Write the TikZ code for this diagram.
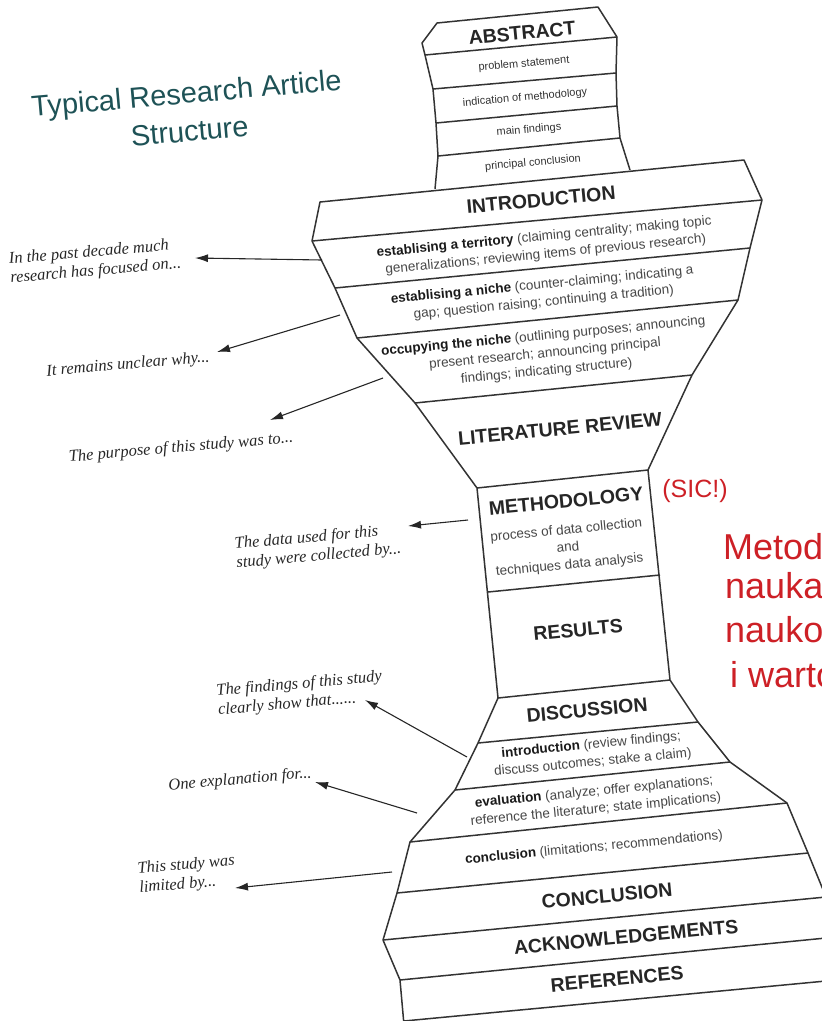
\documentclass[tikz,border=0pt]{standalone}
\usepackage{fontspec}
\usetikzlibrary{arrows.meta}
\newfontfamily\sansbox{Liberation Sans}
\newfontfamily\notefont{Liberation Serif}
\definecolor{titleteal}{RGB}{30,82,86}
\definecolor{sicred}{RGB}{205,32,38}
\newcommand\kw[1]{\textbf{\color{black!90}#1}}

\begin{document}
\begin{tikzpicture}[x=1pt,y=-1pt,
  outl/.style={line width=1.5pt,draw=black!80,line join=round},
  sep/.style={line width=1.5pt,draw=black!80},
  head/.style={font=\sansbox\bfseries\fontsize{19.5}{22}\selectfont,text=black!85,rotate=5.5,inner sep=0pt},
  sub/.style={font=\sansbox\fontsize{13.5}{17.5}\selectfont,text=black!72,align=center,rotate=5.5,inner sep=0pt},
  tiny/.style={font=\sansbox\fontsize{11}{13}\selectfont,text=black!80,rotate=5,inner sep=0pt},
  note/.style={font=\notefont\itshape\fontsize{16.5}{19}\selectfont,text=black!85,align=left,rotate=5,inner sep=0pt},
  title/.style={font=\sansbox\fontsize{29}{38}\selectfont,text=titleteal,align=center,rotate=5},
  arr/.style={-{Latex[length=13pt,width=8pt]},line width=1.1pt,draw=black!85},
  sic/.style={font=\sansbox\fontsize{25}{28}\selectfont,text=sicred,inner sep=0pt},
  polish/.style={font=\sansbox\fontsize{36}{40}\selectfont,text=sicred,anchor=base west,inner sep=0pt}]

   \useasboundingbox (0,0) rectangle (822,1021);
   \clip (0,0) rectangle (822,1021);

   \node[title] (title) at (188,112) {Typical Research Article\\Structure};

   \draw[outl] (435,189) -- (438,156) -- (436,123) -- (433,89) -- (425,55) -- (422,43) -- (437,23)
      -- (598,7) -- (617,37) -- (616,73) -- (617,106) -- (620,138) -- (630,170);
   \draw[outl] (404,1025) -- (400,980) -- (383,940) -- (397,893) -- (410,842) -- (455,790) -- (478,743)
      -- (498,698) -- (477,488) -- (415,403) -- (357,338) -- (335,288) -- (312,241) -- (320,202)
      -- (744,160) -- (762,200) -- (750,248) -- (738,300) -- (692,375) -- (648,470) -- (670,680)
      -- (698,722) -- (730,762) -- (787,803) -- (808,853) -- (826,897) -- (823,938) -- (830,985);

   \draw[sep] (425,55) -- (617,37);
   \draw[sep] (433,89) -- (616,73);
   \draw[sep] (436,123) -- (617,106);
   \draw[sep] (438,156) -- (620,138);
   \draw[sep] (312,241) -- (762,200);
   \draw[sep] (335,288) -- (750,248);
   \draw[sep] (357,338) -- (738,300);
   \draw[sep] (415,403) -- (692,375);
   \draw[sep] (477,488) -- (648,470);
   \draw[sep] (488,592) -- (660,575);
   \draw[sep] (498,698) -- (670,680);
   \draw[sep] (478,743) -- (698,722);
   \draw[sep] (455,790) -- (730,762);
   \draw[sep] (410,842) -- (787,803);
   \draw[sep] (397,893) -- (808,853);
   \draw[sep] (383,940) -- (826,897);
   \draw[sep] (400,980) -- (826,938);
   \draw[sep] (404,1021) -- (826,981);

   \node[head] (abstract) at (522,33) {ABSTRACT};
   \node[tiny] (problem) at (524,64) {problem statement};
   \node[tiny] (indication) at (525,98) {indication of methodology};
   \node[tiny] (mainfind) at (529,130) {main findings};
   \node[tiny] (principal) at (533,163) {principal conclusion};

   \node[head] (intro) at (541,200) {INTRODUCTION};
   \node[sub] (territory) at (545,246) {\kw{establising a territory} (claiming centrality; making topic\\generalizations; reviewing items of previous research)};
   \node[sub] (niche) at (543,294) {\kw{establising a niche} (counter-claiming; indicating a\\gap; question raising; continuing a tradition)};
   \node[sub] (occupy) at (545,354) {\kw{occupying the niche} (outlining purposes; announcing\\present research; announcing principal\\findings; indicating structure)};
   \node[head] (litrev) at (560,429) {LITERATURE REVIEW};
   \node[head] (method) at (566,501) {METHODOLOGY};
   \node[sub] (process) at (568,548) {process of data collection\\and\\techniques data analysis};
   \node[head] (results) at (578,630) {RESULTS};
   \node[head] (discussion) at (587,710) {DISCUSSION};
   \node[sub] (dintro) at (592,754) {\kw{introduction} (review findings;\\discuss outcomes; stake a claim)};
   \node[sub] (evaluation) at (595,801) {\kw{evaluation} (analyze; offer explanations;\\reference the literature; state implications)};
   \node[sub] (dconcl) at (594,848) {\kw{conclusion} (limitations; recommendations)};
   \node[head] (conclusion) at (607,896) {CONCLUSION};
   \node[head] (ack) at (626,937) {ACKNOWLEDGEMENTS};
   \node[head] (refs) at (617,979) {REFERENCES};

   \node[sic] (sic) at (695,491) {(SIC!)};
   \node[polish] (metod) at (723,559) {Metod};
   \node[polish] (nauka) at (725,598) {nauka};
   \node[polish] (nauko) at (725,642) {nauko};
   \node[polish] (warto) at (730,687) {i warto};

   \node[note] (past) at (95,262) {In the past decade much\\research has focused on...};
   \node[note] (unclear) at (128,365) {It remains unclear why...};
   \node[note] (purpose) at (181,448) {The purpose of this study was to...};
   \node[note] (datanote) at (318,547) {The data used for this\\study were collected by...};
   \node[note] (findnote) at (300,694) {The findings of this study\\clearly show that......};
   \node[note] (explain) at (240,780) {One explanation for...};
   \node[note] (limited) at (187,875) {This study was\\limited by...};

   \coordinate (pastFrom) at (322,260);  \coordinate (pastTo) at (195,258);
   \coordinate (unclearFrom) at (340,315);  \coordinate (unclearTo) at (217,352);
   \coordinate (purposeFrom) at (383,378);  \coordinate (purposeTo) at (270,420);
   \coordinate (dataFrom) at (468,520);  \coordinate (dataTo) at (408,526);
   \coordinate (findFrom) at (467,757);  \coordinate (findTo) at (365,700);
   \coordinate (explainFrom) at (417,813);  \coordinate (explainTo) at (315,782);
   \coordinate (limitedFrom) at (392,872);  \coordinate (limitedTo) at (235,888);

   \draw[arr] (pastFrom) -- (pastTo);
   \draw[arr] (unclearFrom) -- (unclearTo);
   \draw[arr] (purposeFrom) -- (purposeTo);
   \draw[arr] (dataFrom) -- (dataTo);
   \draw[arr] (findFrom) -- (findTo);
   \draw[arr] (explainFrom) -- (explainTo);
   \draw[arr] (limitedFrom) -- (limitedTo);

\end{tikzpicture}
\end{document}
